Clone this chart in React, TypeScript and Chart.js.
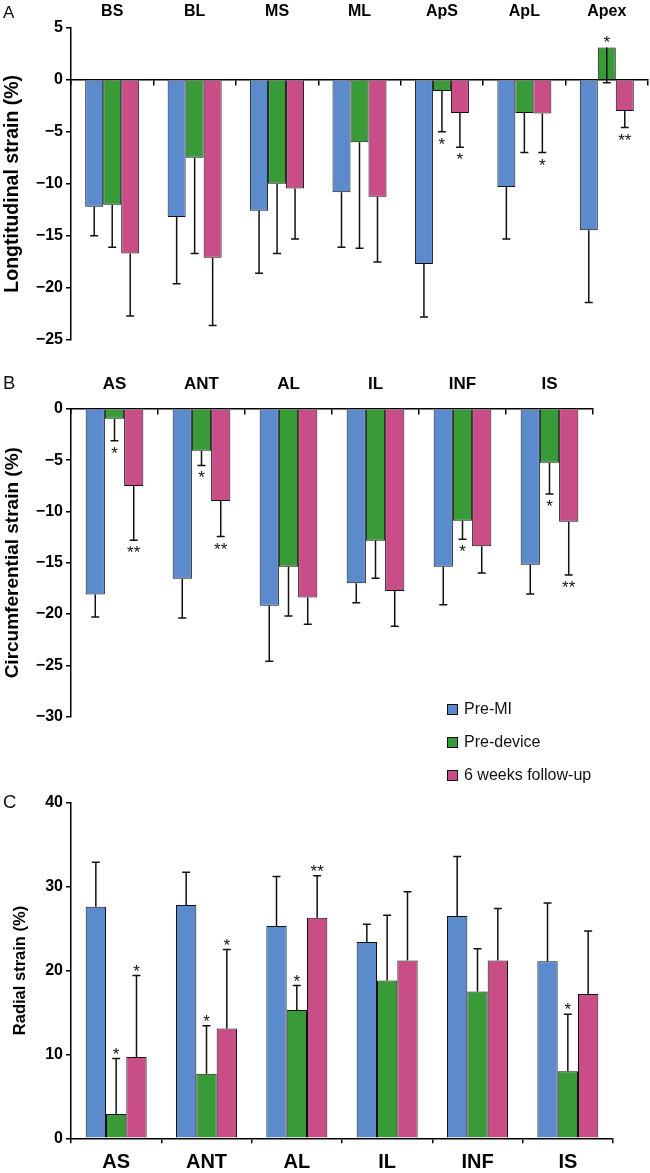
import React, { useEffect, useRef } from 'react';
import { Chart, registerables } from 'chart.js';

Chart.register(...registerables);

const FONT = "'Liberation Sans', Arial, Helvetica, sans-serif";

const seriesNames = ['Pre-MI', 'Pre-device', '6 weeks follow-up'];
const seriesColors = ['#5B8BCD', '#389B37', '#C94D87'];

// ---------- Panel A: longitudinal strain ----------
const longLabels = ['BS', 'BL', 'MS', 'ML', 'ApS', 'ApL', 'Apex'];
const longTicks = [5, 0, -5, -10, -15, -20, -25];
const longPreMI = [-12.2, -13.2, -12.6, -10.8, -17.7, -10.3, -14.45];
const longPreMIErr = [-15.0, -19.6, -18.6, -16.1, -22.8, -15.3, -21.4];
const longPreDevice = [-12.0, -7.5, -10.0, -6.0, -1.1, -3.2, 3.1];
const longPreDeviceErr = [-16.1, -16.7, -16.7, -16.2, -5.0, -7.0, -0.3];
const longFollowUp = [-16.7, -17.1, -10.45, -11.25, -3.2, -3.25, -3.0];
const longFollowUpErr = [-22.7, -23.6, -15.3, -17.5, -6.5, -7.0, -4.6];
const longMarksPreMI = ['', '', '', '', '', '', ''];
const longMarksPreDevice = ['', '', '', '', '*', '', '*'];
const longMarksFollowUp = ['', '', '', '', '*', '*', '**'];

// ---------- Panel B: circumferential strain ----------
const circLabels = ['AS', 'ANT', 'AL', 'IL', 'INF', 'IS'];
const circTicks = [0, -5, -10, -15, -20, -25, -30];
const circPreMI = [-18.1, -16.55, -19.2, -17.0, -15.4, -15.2];
const circPreMIErr = [-20.3, -20.4, -24.6, -18.9, -19.1, -18.05];
const circPreDevice = [-0.95, -4.07, -15.4, -12.85, -10.9, -5.24];
const circPreDeviceErr = [-3.1, -5.5, -20.2, -16.5, -12.7, -8.3];
const circFollowUp = [-7.5, -8.98, -18.4, -17.75, -13.4, -11.0];
const circFollowUpErr = [-12.8, -12.45, -21.0, -21.2, -16.0, -16.2];
const circMarksPreMI = ['', '', '', '', '', ''];
const circMarksPreDevice = ['*', '*', '', '', '*', '*'];
const circMarksFollowUp = ['**', '**', '', '', '', '**'];

// ---------- Panel C: radial strain ----------
const radLabels = ['AS', 'ANT', 'AL', 'IL', 'INF', 'IS'];
const radTicks = [0, 10, 20, 30, 40];
const radPreMI = [27.6, 27.8, 25.3, 23.4, 26.5, 21.1];
const radPreMIErr = [32.9, 31.7, 31.2, 25.5, 33.6, 28.05];
const radPreDevice = [2.9, 7.7, 15.3, 18.8, 17.5, 8.0];
const radPreDeviceErr = [9.5, 13.4, 18.2, 26.6, 22.6, 14.8];
const radFollowUp = [9.7, 13.1, 26.3, 21.2, 21.2, 17.2];
const radFollowUpErr = [19.4, 22.5, 31.3, 29.4, 27.4, 24.7];
const radMarksPreMI = ['', '', '', '', '', ''];
const radMarksPreDevice = ['*', '*', '*', '', '', '*'];
const radMarksFollowUp = ['*', '*', '**', '', '', ''];

const fmtTick = (v: any) => {
  const n = Number(v);
  return n < 0 ? '\u2212' + String(-n) : String(n);
};

const errorBarPlugin = {
  id: 'errorBars',
  afterDatasetsDraw(chart: any, _args: any, opts: any) {
    const { ctx } = chart;
    const yScale = chart.scales.y;
    const ends: number[][] = opts.ends || [];
    const marks: string[][] = opts.marks || [];
    const fs = opts.markSize || 15;
    ctx.save();
    ctx.strokeStyle = '#111';
    ctx.fillStyle = '#111';
    ctx.lineWidth = 1.5;
    ctx.font = `${fs}px ${FONT}`;
    ctx.textAlign = 'center';
    ctx.textBaseline = 'alphabetic';
    chart.data.datasets.forEach((ds: any, di: number) => {
      const meta = chart.getDatasetMeta(di);
      meta.data.forEach((bar: any, i: number) => {
        const v = ds.data[i];
        const e = ends[di] ? ends[di][i] : undefined;
        if (e === undefined || e === null) return;
        const x = bar.x;
        const p0 = yScale.getPixelForValue(v);
        const p1 = yScale.getPixelForValue(e);
        ctx.beginPath();
        ctx.moveTo(x, p0);
        ctx.lineTo(x, p1);
        ctx.moveTo(x - 4, p1);
        ctx.lineTo(x + 4, p1);
        ctx.stroke();
        const m = marks[di] ? marks[di][i] : '';
        if (m) {
          const far = v < 0 ? Math.max(p0, p1) : Math.min(p0, p1);
          const cy = v < 0 ? far + 8.5 : far - 8.5;
          ctx.fillText(m, x, cy + 0.56 * fs);
        }
      });
    });
    ctx.restore();
  },
};

type PanelProps = {
  top: number;
  height: number;
  areaLeft: number;
  areaTop: number;
  areaBottom: number;
  rightPad: number;
  labels: string[];
  values: number[][];
  ends: number[][];
  marks: string[][];
  ticks: number[];
  yTitle: string;
  titleSize: number;
  titlePad: number;
  tickSize: number;
  catSize: number;
  catPad: number;
  catPct: number;
  labelsOnTop: boolean;
};

function Panel(p: PanelProps) {
  const ref = useRef<HTMLCanvasElement>(null);
  useEffect(() => {
    if (!ref.current) return;
    const min = Math.min(...p.ticks);
    const max = Math.max(...p.ticks);
    const axisGrid = {
      drawOnChartArea: false,
      drawTicks: true,
      tickLength: 5,
      color: '#000',
      lineWidth: 1.5,
    };
    const scales: any = {
      y: {
        type: 'linear',
        min,
        max,
        afterBuildTicks: (s: any) => {
          s.ticks = p.ticks.map((v) => ({ value: v }));
        },
        afterFit: (s: any) => {
          s.width = p.areaLeft;
        },
        grid: axisGrid,
        border: { display: true, color: '#000', width: 1.5 },
        ticks: {
          color: '#000',
          padding: 3,
          font: { family: FONT, size: p.tickSize, weight: 'bold' },
          callback: (v: any) => fmtTick(v),
        },
        title: {
          display: true,
          text: p.yTitle,
          color: '#000',
          font: { family: FONT, size: p.titleSize, weight: 'bold' },
          padding: { top: p.titlePad, bottom: 0 },
        },
      },
    };
    let padding: any;
    if (p.labelsOnTop) {
      scales.x = {
        type: 'category',
        position: { y: 0 },
        offset: true,
        grid: { ...axisGrid, offset: true },
        border: { display: true, color: '#000', width: 1.5 },
        ticks: { display: false },
      };
      scales.xTop = {
        type: 'category',
        axis: 'x',
        position: 'top',
        offset: true,
        grid: { display: false, drawTicks: false },
        border: { display: false },
        ticks: {
          color: '#000',
          padding: p.catPad,
          autoSkip: false,
          maxRotation: 0,
          font: { family: FONT, size: p.catSize, weight: 'bold' },
        },
        afterFit: (s: any) => {
          s.height = p.areaTop;
        },
      };
      padding = { left: 0, top: 0, right: p.rightPad, bottom: p.height - p.areaBottom };
    } else {
      scales.x = {
        type: 'category',
        position: 'bottom',
        offset: true,
        grid: { ...axisGrid, offset: true },
        border: { display: true, color: '#000', width: 1.5 },
        ticks: {
          color: '#000',
          padding: p.catPad,
          autoSkip: false,
          maxRotation: 0,
          font: { family: FONT, size: p.catSize, weight: 'bold' },
        },
        afterFit: (s: any) => {
          s.height = p.height - p.areaBottom;
        },
      };
      padding = { left: 0, top: p.areaTop, right: p.rightPad, bottom: 0 };
    }

    const chart = new Chart(ref.current, {
      type: 'bar',
      data: {
        labels: p.labels,
        datasets: p.values.map((vals, i) => ({
          label: seriesNames[i],
          data: vals,
          backgroundColor: seriesColors[i],
          borderColor: '#111',
          borderWidth: 1,
          categoryPercentage: p.catPct,
          barPercentage: 1,
          xAxisID: 'x',
          yAxisID: 'y',
        })),
      },
      options: {
        responsive: false,
        animation: false,
        devicePixelRatio: 1,
        layout: { padding },
        scales,
        plugins: {
          legend: { display: false },
          tooltip: { enabled: false },
          // @ts-ignore
          errorBars: { ends: p.ends, marks: p.marks, markSize: 17 },
        },
      } as any,
      plugins: [errorBarPlugin as any],
    });
    return () => chart.destroy();
  }, []);
  return (
    <canvas
      ref={ref}
      width={650}
      height={p.height}
      style={{ position: 'absolute', left: 0, top: p.top, width: 650, height: p.height }}
    />
  );
}

const letterStyle = (top: number, size: number): React.CSSProperties => ({
  position: 'absolute',
  left: 3,
  top,
  fontFamily: FONT,
  fontSize: size,
  lineHeight: 1,
  color: '#111',
});

export default function App() {
  const legendRows = [709, 742, 775];
  return (
    <div
      style={{
        position: 'absolute',
        left: 0,
        top: 0,
        width: 650,
        height: 1173,
        background: '#fff',
        overflow: 'hidden',
      }}
    >
      <Panel
        top={0}
        height={354}
        areaLeft={71}
        areaTop={27.6}
        areaBottom={340}
        rightPad={2}
        labels={longLabels}
        values={[longPreMI, longPreDevice, longFollowUp]}
        ends={[longPreMIErr, longPreDeviceErr, longFollowUpErr]}
        marks={[longMarksPreMI, longMarksPreDevice, longMarksFollowUp]}
        ticks={longTicks}
        yTitle="Longtitudinal strain (%)"
        titleSize={19.5}
        titlePad={1}
        tickSize={16}
        catSize={16}
        catPad={6.5}
        catPct={0.655}
        labelsOnTop={true}
      />
      <Panel
        top={355}
        height={376}
        areaLeft={71}
        areaTop={54}
        areaBottom={361.5}
        rightPad={57}
        labels={circLabels}
        values={[circPreMI, circPreDevice, circFollowUp]}
        ends={[circPreMIErr, circPreDeviceErr, circFollowUpErr]}
        marks={[circMarksPreMI, circMarksPreDevice, circMarksFollowUp]}
        ticks={circTicks}
        yTitle="Circumferential strain (%)"
        titleSize={19}
        titlePad={1}
        tickSize={16}
        catSize={17}
        catPad={14.5}
        catPct={0.663}
        labelsOnTop={true}
      />
      <Panel
        top={780}
        height={393}
        areaLeft={71}
        areaTop={22.7}
        areaBottom={358.3}
        rightPad={37}
        labels={radLabels}
        values={[radPreMI, radPreDevice, radFollowUp]}
        ends={[radPreMIErr, radPreDeviceErr, radFollowUpErr]}
        marks={[radMarksPreMI, radMarksPreDevice, radMarksFollowUp]}
        ticks={radTicks}
        yTitle="Radial strain (%)"
        titleSize={16.5}
        titlePad={11}
        tickSize={16}
        catSize={20}
        catPad={7.2}
        catPct={0.675}
        labelsOnTop={false}
      />
      <div style={letterStyle(4, 17)}>A</div>
      <div style={letterStyle(374, 18.5)}>B</div>
      <div style={letterStyle(792.6, 18.5)}>C</div>
      {seriesNames.map((name, i) => (
        <div
          key={name}
          style={{
            position: 'absolute',
            left: 447,
            top: legendRows[i] - 10,
            height: 20,
            display: 'flex',
            alignItems: 'center',
            fontFamily: FONT,
            fontSize: 16,
            lineHeight: '20px',
            color: '#111',
            whiteSpace: 'nowrap',
          }}
        >
          <span
            style={{
              display: 'inline-block',
              width: 11,
              height: 11,
              boxSizing: 'border-box',
              border: '1.5px solid #111',
              background: seriesColors[i],
              marginRight: 6,
            }}
          />
          <span>{name}</span>
        </div>
      ))}
    </div>
  );
}
